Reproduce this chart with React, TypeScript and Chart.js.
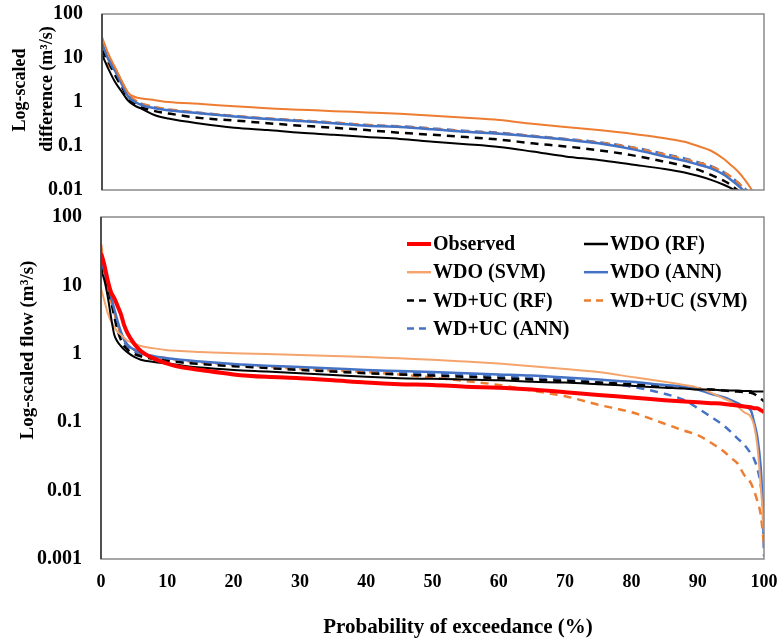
import React, { useEffect, useRef } from "react";
import { Chart, registerables } from "chart.js";

Chart.register(...registerables);

const FONT = "'Liberation Serif', 'Times New Roman', serif";

// ---------- Top panel: log-scaled difference ----------
const xTop = [0, 1, 2, 3, 4, 5, 6, 8, 10, 15, 20, 25, 30, 35, 40, 45, 50, 55, 60, 65, 70, 75, 80, 85, 88, 90, 92, 94, 95, 96, 97, 98, 99, 100];
const topWdoRf = [12, 5.5, 2.8, 1.7, 1.05, 0.82, 0.7, 0.5, 0.42, 0.32, 0.26, 0.23, 0.2, 0.18, 0.16, 0.145, 0.125, 0.11, 0.095, 0.075, 0.058, 0.048, 0.038, 0.03, 0.025, 0.021, 0.017, 0.013, 0.011, 0.009, 0.007, 0.005, 0.003, 0.002];
const topWdoSvm = [30, 12, 6, 3, 1.6, 1.3, 1.2, 1.1, 1.0, 0.9, 0.8, 0.72, 0.67, 0.62, 0.58, 0.54, 0.49, 0.44, 0.39, 0.32, 0.27, 0.23, 0.19, 0.15, 0.125, 0.1, 0.078, 0.05, 0.037, 0.027, 0.018, 0.011, 0.006, 0.003];
const topWdoAnn = [22, 9, 5, 2.5, 1.3, 1.0, 0.85, 0.72, 0.65, 0.55, 0.47, 0.41, 0.37, 0.33, 0.29, 0.27, 0.24, 0.21, 0.19, 0.165, 0.14, 0.115, 0.085, 0.058, 0.046, 0.038, 0.031, 0.022, 0.017, 0.013, 0.0095, 0.007, 0.004, 0.002];
const topWducRf = [15, 8, 4, 2.2, 1.2, 0.9, 0.75, 0.62, 0.55, 0.43, 0.38, 0.33, 0.29, 0.26, 0.23, 0.2, 0.18, 0.16, 0.14, 0.115, 0.098, 0.08, 0.062, 0.044, 0.035, 0.029, 0.022, 0.016, 0.013, 0.01, 0.008, 0.006, 0.004, 0.002];
const topWducSvm = [16, 7, 5, 2.6, 1.5, 1.1, 0.92, 0.77, 0.68, 0.56, 0.48, 0.42, 0.38, 0.34, 0.3, 0.275, 0.245, 0.215, 0.195, 0.168, 0.142, 0.12, 0.092, 0.064, 0.05, 0.042, 0.034, 0.025, 0.02, 0.015, 0.011, 0.008, 0.005, 0.003];
const topWducAnn = [18, 10, 5.5, 2.8, 1.4, 1.05, 0.9, 0.75, 0.67, 0.56, 0.48, 0.42, 0.38, 0.34, 0.3, 0.28, 0.25, 0.22, 0.2, 0.17, 0.145, 0.122, 0.094, 0.066, 0.052, 0.043, 0.035, 0.025, 0.02, 0.015, 0.011, 0.008, 0.005, 0.003];
const yTicksTop = [100, 10, 1, 0.1, 0.01];

// ---------- Bottom panel: log-scaled flow ----------
const xBottom = [0, 0.5, 1, 1.5, 2, 2.5, 3, 3.5, 4, 5, 6, 8, 10, 12, 15, 20, 25, 30, 35, 40, 45, 50, 55, 60, 65, 70, 75, 80, 85, 88, 90, 92, 94, 95, 96, 97, 98, 98.5, 99, 99.5, 99.8, 100];
const botObserved = [30, 20, 12, 8, 6.5, 5, 3.8, 2.6, 2.0, 1.4, 1.1, 0.85, 0.72, 0.64, 0.58, 0.5, 0.46, 0.44, 0.41, 0.38, 0.36, 0.35, 0.33, 0.32, 0.3, 0.275, 0.25, 0.23, 0.21, 0.2, 0.195, 0.19, 0.185, 0.18, 0.175, 0.17, 0.165, 0.16, 0.16, 0.15, 0.145, 0.14];
const botWdoRf = [17, 12, 7, 3.5, 1.9, 1.5, 1.3, 1.15, 1.05, 0.9, 0.82, 0.76, 0.72, 0.68, 0.63, 0.58, 0.55, 0.52, 0.49, 0.46, 0.44, 0.43, 0.42, 0.41, 0.39, 0.38, 0.36, 0.34, 0.32, 0.31, 0.3, 0.3, 0.29, 0.29, 0.29, 0.285, 0.285, 0.28, 0.28, 0.28, 0.28, 0.28];
const botWdoSvm = [9, 6, 4, 3, 2.5, 2.1, 1.9, 1.7, 1.55, 1.4, 1.3, 1.2, 1.13, 1.1, 1.06, 1.02, 0.99, 0.96, 0.93, 0.9, 0.86, 0.82, 0.77, 0.72, 0.66, 0.6, 0.54, 0.46, 0.39, 0.35, 0.32, 0.27, 0.22, 0.2, 0.17, 0.14, 0.12, 0.09, 0.045, 0.012, 0.005, 0.0025];
const botWdoAnn = [25, 16, 11, 7, 4.5, 3, 2.1, 1.6, 1.35, 1.15, 1.02, 0.92, 0.86, 0.82, 0.77, 0.71, 0.67, 0.64, 0.61, 0.58, 0.56, 0.54, 0.52, 0.5, 0.48, 0.45, 0.42, 0.39, 0.35, 0.33, 0.3, 0.26, 0.23, 0.21, 0.19, 0.17, 0.15, 0.1, 0.06, 0.022, 0.007, 0.004];
const botWducRf = [20, 14, 9, 6, 3.5, 2.2, 1.6, 1.3, 1.15, 1.0, 0.92, 0.84, 0.79, 0.75, 0.71, 0.66, 0.62, 0.58, 0.55, 0.52, 0.5, 0.48, 0.46, 0.44, 0.42, 0.4, 0.38, 0.36, 0.33, 0.32, 0.31, 0.3, 0.29, 0.285, 0.28, 0.275, 0.27, 0.26, 0.24, 0.22, 0.21, 0.2];
const botWducSvm = [40, 18, 10, 6, 4, 2.7, 2.0, 1.6, 1.35, 1.15, 1.02, 0.92, 0.86, 0.8, 0.75, 0.7, 0.65, 0.6, 0.57, 0.54, 0.5, 0.45, 0.4, 0.35, 0.29, 0.24, 0.18, 0.14, 0.095, 0.075, 0.065, 0.05, 0.037, 0.03, 0.025, 0.017, 0.013, 0.01, 0.007, 0.0045, 0.0025, 0.0015];
const botWducAnn = [22, 15, 10, 6.5, 4, 2.7, 1.9, 1.5, 1.25, 1.08, 0.98, 0.88, 0.82, 0.78, 0.74, 0.69, 0.65, 0.61, 0.58, 0.55, 0.53, 0.51, 0.49, 0.47, 0.44, 0.42, 0.38, 0.33, 0.26, 0.21, 0.16, 0.12, 0.088, 0.072, 0.058, 0.047, 0.035, 0.029, 0.021, 0.012, 0.006, 0.0011];
const yTicksBottom = [100, 10, 1, 0.1, 0.01, 0.001];
const xTicksBottom = [0, 10, 20, 30, 40, 50, 60, 70, 80, 90, 100];

const seriesLabels = ["Observed", "WDO (RF)", "WDO (SVM)", "WDO (ANN)", "WD+UC (RF)", "WD+UC (SVM)", "WD+UC (ANN)"];

type Style = { color: string; width: number; dash: number[] };

const toPoints = (xs: number[], ys: number[]) => xs.map((x, i) => ({ x, y: ys[i] }));

const makeDataset = (label: string, xs: number[], ys: number[], s: Style) => ({
  label,
  data: toPoints(xs, ys),
  borderColor: s.color,
  backgroundColor: s.color,
  borderWidth: s.width,
  borderDash: s.dash,
  pointRadius: 0,
  fill: false,
  cubicInterpolationMode: "monotone" as const,
});

const zeroPadding = (s: any) => {
  s.paddingTop = 0;
  s.paddingBottom = 0;
  s.paddingLeft = 0;
  s.paddingRight = 0;
};

const framePlugin = {
  id: "frame",
  afterDraw(chart: any) {
    const { ctx, chartArea: a } = chart;
    ctx.save();
    ctx.strokeStyle = "#8a8a8a";
    ctx.lineWidth = 1.5;
    ctx.strokeRect(a.left, a.top, a.right - a.left, a.bottom - a.top);
    ctx.strokeStyle = "#333";
    ctx.beginPath();
    ctx.moveTo(a.left, a.top);
    ctx.lineTo(a.left, a.bottom);
    ctx.stroke();
    ctx.restore();
  },
};

const makeTextPlugin = (id: string, items: { text: string; x: number; y: number; size: number; rot: boolean }[]) => ({
  id,
  afterDraw(chart: any) {
    const ctx = chart.ctx;
    ctx.save();
    ctx.fillStyle = "#000";
    ctx.textAlign = "center";
    ctx.textBaseline = "middle";
    items.forEach((it) => {
      ctx.font = `bold ${it.size}px ${FONT}`;
      ctx.save();
      ctx.translate(it.x, it.y);
      if (it.rot) ctx.rotate(-Math.PI / 2);
      ctx.fillText(it.text, 0, 0);
      ctx.restore();
    });
    ctx.restore();
  },
});

const legendPlugin = {
  id: "customLegend",
  afterDraw(chart: any) {
    const ctx = chart.ctx;
    const cols = [407, 584];
    const rowY0 = 40;
    const rowH = 28.2;
    ctx.save();
    ctx.font = `bold 20px ${FONT}`;
    ctx.textBaseline = "middle";
    ctx.textAlign = "left";
    chart.data.datasets.forEach((ds: any, i: number) => {
      const x = cols[i % 2];
      const y = rowY0 + Math.floor(i / 2) * rowH;
      ctx.strokeStyle = ds.borderColor;
      ctx.lineWidth = Math.max(ds.borderWidth, 2.5);
      ctx.setLineDash(ds.borderDash && ds.borderDash.length ? [7, 5] : []);
      ctx.beginPath();
      ctx.moveTo(x, y);
      ctx.lineTo(x + 24, y);
      ctx.stroke();
      ctx.setLineDash([]);
      ctx.fillStyle = "#000";
      ctx.fillText(ds.label, x + 26, y + 1);
    });
    ctx.restore();
  },
};

const tickFont = { family: FONT, size: 20, weight: "bold" as const };

export default function App() {
  const topRef = useRef<HTMLCanvasElement>(null);
  const botRef = useRef<HTMLCanvasElement>(null);

  useEffect(() => {
    const topStyles: Style[] = [
      { color: "#000000", width: 2, dash: [] },
      { color: "#ED7D31", width: 2, dash: [] },
      { color: "#4472C4", width: 2.5, dash: [] },
      { color: "#000000", width: 2.5, dash: [8, 6] },
      { color: "#ED7D31", width: 2.5, dash: [8, 6] },
      { color: "#4472C4", width: 2.5, dash: [8, 6] },
    ];
    const topSeries = [topWdoRf, topWdoSvm, topWdoAnn, topWducRf, topWducSvm, topWducAnn];
    const topChart = new Chart(topRef.current as HTMLCanvasElement, {
      type: "line",
      data: {
        datasets: topSeries.map((ys, i) => makeDataset(seriesLabels[i + 1], xTop, ys, topStyles[i])) as any,
      },
      options: {
        responsive: false,
        animation: false,
        layout: { padding: { top: 14, right: 14, bottom: 14, left: 0 } },
        plugins: { legend: { display: false }, tooltip: { enabled: false } },
        scales: {
          x: { type: "linear", min: 0, max: 100, display: false },
          y: {
            type: "logarithmic",
            min: 0.01,
            max: 100,
            afterBuildTicks: (s: any) => {
              s.ticks = yTicksTop.map((v) => ({ value: v }));
            },
            afterFit: (s: any) => {
              s.width = 102;
              zeroPadding(s);
            },
            grid: { display: false, drawTicks: false },
            border: { display: false },
            ticks: { font: tickFont, color: "#000", padding: 19, autoSkip: false, callback: (v: any) => String(v) },
          },
        },
      } as any,
      plugins: [
        framePlugin,
        makeTextPlugin("topTitles", [
          { text: "Log-scaled", x: 20, y: 90, size: 18, rot: true },
          { text: "difference (m³/s)", x: 47, y: 89, size: 18, rot: true },
        ]),
      ],
    });

    const botStyles: Style[] = [
      { color: "#FF0000", width: 4, dash: [] },
      { color: "#000000", width: 2, dash: [] },
      { color: "#F4A46C", width: 2, dash: [] },
      { color: "#4472C4", width: 2.5, dash: [] },
      { color: "#000000", width: 2.5, dash: [8, 6] },
      { color: "#ED7D31", width: 2.5, dash: [8, 6] },
      { color: "#4472C4", width: 2.5, dash: [8, 6] },
    ];
    const botSeries = [botObserved, botWdoRf, botWdoSvm, botWdoAnn, botWducRf, botWducSvm, botWducAnn];
    const botChart = new Chart(botRef.current as HTMLCanvasElement, {
      type: "line",
      data: {
        datasets: botSeries.map((ys, i) => makeDataset(seriesLabels[i], xBottom, ys, botStyles[i])) as any,
      },
      options: {
        responsive: false,
        animation: false,
        layout: { padding: { top: 13, right: 14, bottom: 0, left: 0 } },
        plugins: { legend: { display: false }, tooltip: { enabled: false } },
        scales: {
          x: {
            type: "linear",
            min: 0,
            max: 100,
            afterBuildTicks: (s: any) => {
              s.ticks = xTicksBottom.map((v) => ({ value: v }));
            },
            afterFit: (s: any) => {
              s.height = 81;
              zeroPadding(s);
            },
            grid: { display: false, drawTicks: false },
            border: { display: false },
            ticks: { font: { family: FONT, size: 18, weight: "bold" }, color: "#000", padding: 13, autoSkip: false, maxRotation: 0 },
          },
          y: {
            type: "logarithmic",
            min: 0.001,
            max: 100,
            afterBuildTicks: (s: any) => {
              s.ticks = yTicksBottom.map((v) => ({ value: v }));
            },
            afterFit: (s: any) => {
              s.width = 101;
              zeroPadding(s);
            },
            grid: { display: false, drawTicks: false },
            border: { display: false },
            ticks: { font: tickFont, color: "#000", padding: 19, autoSkip: false, callback: (v: any) => String(v) },
          },
        },
      } as any,
      plugins: [
        framePlugin,
        legendPlugin,
        makeTextPlugin("botTitles", [
          { text: "Log-scaled flow (m³/s)", x: 28, y: 146, size: 19, rot: true },
          { text: "Probability of exceedance (%)", x: 458, y: 424, size: 21, rot: false },
        ]),
      ],
    });

    return () => {
      topChart.destroy();
      botChart.destroy();
    };
  }, []);

  return (
    <div style={{ position: "absolute", left: 0, top: 0, width: 778, height: 640, background: "#fff" }}>
      <canvas ref={topRef} width={778} height={204} style={{ position: "absolute", left: 0, top: 0 }} />
      <canvas ref={botRef} width={778} height={436} style={{ position: "absolute", left: 0, top: 204 }} />
    </div>
  );
}
